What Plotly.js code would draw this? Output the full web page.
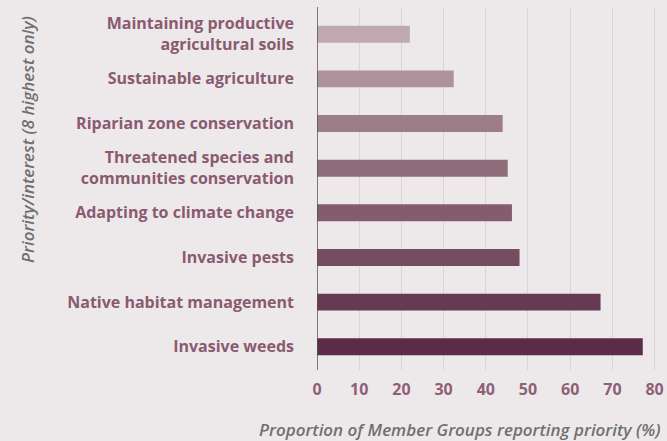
<!DOCTYPE html>
<html>
<head>
<meta charset="utf-8">
<script src="https://cdn.plot.ly/plotly-3.0.1.min.js"></script>
<style>html,body{margin:0;padding:0;background:#EDE9EA;}#chart{width:667px;height:441px;}</style>
</head>
<body>
<div id="chart"></div>
<script>
// Categories from bottom to top
const categories = [
  "Invasive weeds",
  "Native habitat management",
  "Invasive pests",
  "Adapting to climate change",
  "Threatened species and<br>communities conservation",
  "Riparian zone conservation",
  "Sustainable agriculture",
  "Maintaining productive<br>agricultural soils"
];
const values = [77.2, 67.2, 48.0, 46.2, 45.2, 44.0, 32.4, 22.0];
const barColors = ["#5C2B48", "#673A54", "#764C61", "#835D6F", "#8E6C7A", "#9E7D8A", "#AD929C", "#BFA8B0"];
const xTicks = [0, 10, 20, 30, 40, 50, 60, 70, 80];

const labelColor = "#8A5A70";
const fontFam = "'Open Sans', 'Noto Sans', sans-serif";

const trace = {
  type: "bar",
  orientation: "h",
  x: values,
  y: categories,
  marker: {color: barColors, line: {width: 0}},
  width: 0.38,
  hoverinfo: "none"
};

const layout = {
  width: 667, height: 441,
  paper_bgcolor: "#EDE9EA",
  plot_bgcolor: "#EDE9EA",
  margin: {l: 317, r: 4, t: 7, b: 71},
  showlegend: false,
  xaxis: {
    range: [0, 82],
    tickvals: xTicks,
    ticktext: xTicks.map(String),
    showgrid: true,
    gridcolor: "#D9D5D6",
    gridwidth: 1,
    zeroline: false,
    showline: false,
    ticks: "",
    ticklabelstandoff: 8,
    tickfont: {family: fontFam, size: 16, color: "#8F5F76", weight: "bold"}
  },
  yaxis: {
    type: "category",
    categoryorder: "array",
    categoryarray: categories,
    range: [-0.52, 7.61],
    showgrid: false,
    zeroline: false,
    showline: false,
    ticks: "",
    ticklabelstandoff: 22,
    tickfont: {family: fontFam, size: 16, color: labelColor, weight: "bold"}
  },
  shapes: [{
    type: "line", xref: "x", yref: "paper", x0: 0, x1: 0, y0: 0, y1: 1,
    line: {color: "#555555", width: 1.5}
  }],
  annotations: [
    {
      text: "<i>Priority/interest (8 highest only)</i>",
      xref: "paper", yref: "paper",
      x: -0.835, y: 0.634,
      xanchor: "center", yanchor: "middle",
      textangle: -90, showarrow: false,
      font: {family: fontFam, size: 17, color: "#707070", weight: 600}
    },
    {
      text: "<i>Proportion of Member Groups reporting priority (%)</i>",
      xref: "paper", yref: "paper",
      x: 1.0, y: -0.165,
      xanchor: "right", yanchor: "middle",
      showarrow: false,
      font: {family: fontFam, size: 17, color: "#707070", weight: 600}
    }
  ]
};

Plotly.newPlot("chart", [trace], layout, {staticPlot: true, displayModeBar: false});
</script>
</body>
</html>
